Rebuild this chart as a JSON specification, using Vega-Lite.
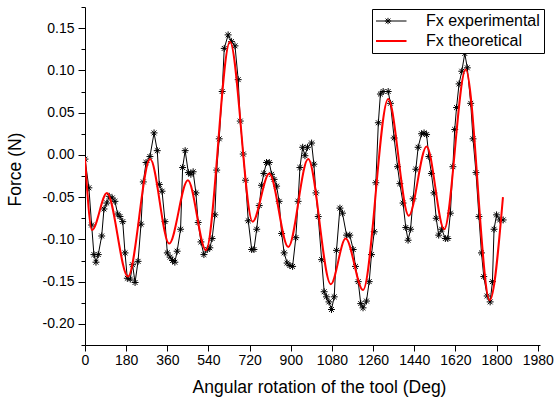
{
  "$schema": "https://vega.github.io/schema/vega-lite/v6.json",
  "width": 455,
  "height": 338,
  "autosize": {"type": "none"},
  "padding": {"left": 85, "top": 7, "right": 15, "bottom": 58},
  "background": "white",
  "config": {
    "view": {"stroke": null},
    "font": "Liberation Sans",
    "axis": {"grid": false, "domainColor": "black", "tickColor": "black", "labelColor": "black", "titleColor": "black", "labelFont": "Liberation Sans", "titleFont": "Liberation Sans", "labelFontSize": 14, "titleFontSize": 17.5, "titleFontWeight": "normal", "labelOverlap": false, "labelBound": false, "labelFlush": false}
  },
  "resolve": {"axis": {"y": "independent"}},
  "datasets": {
    "exp": [
      {"a":0,"f":-0.005},{"a":17,"f":-0.039},{"a":29,"f":-0.083},{"a":39,"f":-0.118},{"a":48,"f":-0.127},{"a":58,"f":-0.118},{"a":73,"f":-0.096},{"a":83,"f":-0.064},{"a":95,"f":-0.057},{"a":106,"f":-0.049},{"a":119,"f":-0.051},{"a":131,"f":-0.055},{"a":143,"f":-0.070},{"a":153,"f":-0.073},{"a":165,"f":-0.079},{"a":175,"f":-0.116},{"a":185,"f":-0.146},{"a":198,"f":-0.147},{"a":208,"f":-0.130},{"a":219,"f":-0.151},{"a":232,"f":-0.126},{"a":245,"f":-0.082},{"a":255,"f":-0.032},{"a":267,"f":-0.009},{"a":284,"f":-0.002},{"a":302,"f":0.026},{"a":316,"f":0.005},{"a":325,"f":-0.035},{"a":337,"f":-0.043},{"a":350,"f":-0.079},{"a":360,"f":-0.116},{"a":372,"f":-0.121},{"a":383,"f":-0.125},{"a":393,"f":-0.127},{"a":403,"f":-0.114},{"a":418,"f":-0.088},{"a":427,"f":-0.015},{"a":438,"f":0.005},{"a":452,"f":-0.021},{"a":463,"f":-0.023},{"a":473,"f":-0.020},{"a":485,"f":-0.045},{"a":495,"f":-0.080},{"a":507,"f":-0.103},{"a":520,"f":-0.118},{"a":535,"f":-0.112},{"a":546,"f":-0.110},{"a":556,"f":-0.099},{"a":568,"f":-0.071},{"a":576,"f":-0.018},{"a":587,"f":0.019},{"a":600,"f":0.075},{"a":609,"f":0.126},{"a":626,"f":0.142},{"a":641,"f":0.134},{"a":656,"f":0.129},{"a":670,"f":0.089},{"a":679,"f":0.040},{"a":692,"f":0.001},{"a":702,"f":-0.030},{"a":714,"f":-0.078},{"a":729,"f":-0.112},{"a":739,"f":-0.112},{"a":751,"f":-0.088},{"a":762,"f":-0.060},{"a":772,"f":-0.036},{"a":782,"f":-0.022},{"a":794,"f":-0.009},{"a":806,"f":-0.009},{"a":816,"f":-0.023},{"a":827,"f":-0.029},{"a":838,"f":-0.037},{"a":849,"f":-0.055},{"a":860,"f":-0.093},{"a":871,"f":-0.116},{"a":884,"f":-0.128},{"a":896,"f":-0.131},{"a":908,"f":-0.132},{"a":922,"f":-0.098},{"a":932,"f":-0.055},{"a":940,"f":-0.015},{"a":952,"f":0.009},{"a":962,"f":-0.001},{"a":973,"f":0.009},{"a":991,"f":0.014},{"a":1001,"f":-0.011},{"a":1010,"f":-0.045},{"a":1020,"f":-0.073},{"a":1035,"f":-0.124},{"a":1046,"f":-0.162},{"a":1056,"f":-0.168},{"a":1067,"f":-0.174},{"a":1078,"f":-0.183},{"a":1090,"f":-0.168},{"a":1100,"f":-0.113},{"a":1115,"f":-0.063},{"a":1126,"f":-0.069},{"a":1144,"f":-0.095},{"a":1158,"f":-0.095},{"a":1173,"f":-0.112},{"a":1183,"f":-0.132},{"a":1195,"f":-0.150},{"a":1206,"f":-0.176},{"a":1216,"f":-0.181},{"a":1231,"f":-0.173},{"a":1243,"f":-0.150},{"a":1253,"f":-0.118},{"a":1265,"f":-0.091},{"a":1272,"f":-0.033},{"a":1283,"f":0.038},{"a":1292,"f":0.072},{"a":1304,"f":0.075},{"a":1326,"f":0.075},{"a":1336,"f":0.061},{"a":1352,"f":0.020},{"a":1367,"f":-0.014},{"a":1377,"f":-0.034},{"a":1391,"f":-0.057},{"a":1403,"f":-0.086},{"a":1413,"f":-0.101},{"a":1424,"f":-0.088},{"a":1435,"f":-0.052},{"a":1447,"f":-0.017},{"a":1457,"f":0.009},{"a":1472,"f":0.025},{"a":1483,"f":0.026},{"a":1494,"f":0.024},{"a":1504,"f":-0.002},{"a":1515,"f":-0.022},{"a":1526,"f":-0.045},{"a":1536,"f":-0.075},{"a":1547,"f":-0.095},{"a":1560,"f":-0.088},{"a":1576,"f":-0.099},{"a":1587,"f":-0.099},{"a":1598,"f":-0.069},{"a":1609,"f":-0.014},{"a":1617,"f":0.030},{"a":1625,"f":0.056},{"a":1636,"f":0.084},{"a":1648,"f":0.099},{"a":1661,"f":0.120},{"a":1672,"f":0.103},{"a":1687,"f":0.061},{"a":1697,"f":0.019},{"a":1710,"f":-0.021},{"a":1723,"f":-0.073},{"a":1734,"f":-0.116},{"a":1744,"f":-0.144},{"a":1759,"f":-0.167},{"a":1772,"f":-0.174},{"a":1782,"f":-0.150},{"a":1789,"f":-0.088},{"a":1800,"f":-0.071},{"a":1814,"f":-0.077},{"a":1829,"f":-0.077}
    ],
    "theo": [
      {"a":0,"f":-0.003},{"a":31,"f":-0.089},{"a":96,"f":-0.045},{"a":188,"f":-0.144},{"a":285,"f":-0.005},{"a":368,"f":-0.105},{"a":450,"f":-0.030},{"a":529,"f":-0.113},{"a":634,"f":0.134},{"a":733,"f":-0.079},{"a":806,"f":-0.022},{"a":889,"f":-0.109},{"a":976,"f":-0.005},{"a":1075,"f":-0.153},{"a":1140,"f":-0.099},{"a":1216,"f":-0.160},{"a":1326,"f":0.066},{"a":1416,"f":-0.072},{"a":1494,"f":0.010},{"a":1571,"f":-0.088},{"a":1665,"f":0.101},{"a":1770,"f":-0.172},{"a":1828,"f":-0.050}
    ]
  },
  "layer": [
    {
      "data": {"name": "exp"},
      "transform": [{"calculate": "'Fx experimental'", "as": "series"}],
      "mark": {"type": "line", "strokeWidth": 1, "clip": true},
      "encoding": {
        "x": {"field": "a", "type": "quantitative", "scale": {"domain": [0, 1990], "nice": false, "zero": false},
          "axis": {"values": [0,90,180,270,360,450,540,630,720,810,900,990,1080,1170,1260,1350,1440,1530,1620,1710,1800,1890,1980],
            "labelExpr": "datum.value % 180 == 0 ? '' + datum.value : ''",
            "tickSize": {"condition": {"test": "datum.value % 180 == 0", "value": 6}, "value": 3},
            "labelPadding": 2,
            "title": "Angular rotation of the tool (Deg)", "titleX": 234, "titleY": 47, "titleBaseline": "alphabetic", "titleAlign": "center", "titleAnchor": null}},
        "y": {"field": "f", "type": "quantitative", "scale": {"domain": [-0.225, 0.175], "nice": false, "zero": false},
          "axis": {"orient": "left", "values": [-0.2,-0.15,-0.1,-0.05,0,0.05,0.1,0.15],
            "format": ".2f",
            "labelExpr": "replace(datum.label, '\u2212', '-')",
            "tickSize": 7,
            "labelPadding": 4,
            "title": "Force (N)", "titleX": -61, "titleY": 162, "titleBaseline": "bottom", "titleAlign": "center", "titleAngle": -90, "titleAnchor": null}},
        "color": {"field": "series", "type": "nominal",
          "scale": {"domain": ["Fx experimental", "Fx theoretical"], "range": ["black", "#ff0000"]},
          "legend": {"title": null, "orient": "none", "legendX": 287, "legendY": 2, "strokeColor": "black", "fillColor": "white", "padding": 4,
            "labelFont": "Liberation Sans", "labelFontSize": 16, "labelColor": "black", "labelOffset": 30, "symbolOffset": 4, "rowPadding": 4,
            "symbolSize": 1369, "clipHeight": 16, "symbolType": "stroke",
            "encode": {"symbols": {"update": {
              "shape": {"signal": "datum.value == 'Fx experimental' ? 'M-1,0L1,0M0,-0.17L0,0.17M-0.13,-0.13L0.13,0.13M-0.13,0.13L0.13,-0.13M-0.17,0L0.17,0' : 'M-1,0L1,0'"},
              "strokeWidth": {"signal": "datum.value == 'Fx experimental' ? 1 : 2"}
            }}}}}
      }
    },
    {
      "data": {"name": "exp"},
      "mark": {"type": "point", "shape": "M-1,0L1,0M0,-1L0,1M-0.7,-0.7L0.7,0.7M-0.7,0.7L0.7,-0.7", "size": 48, "filled": false, "stroke": "black", "strokeWidth": 1, "opacity": 1, "clip": true},
      "encoding": {
        "x": {"field": "a", "type": "quantitative"},
        "y": {"field": "f", "type": "quantitative",
          "axis": {"orient": "left", "values": [-0.225,-0.175,-0.125,-0.075,-0.025,0.025,0.075,0.125,0.175], "labels": false, "tickSize": 4, "domain": false, "title": null}}
      }
    },
    {
      "data": {"name": "theo"},
      "transform": [{"calculate": "'Fx theoretical'", "as": "series"}],
      "mark": {"type": "line", "strokeWidth": 2, "interpolate": "monotone", "clip": true},
      "encoding": {
        "x": {"field": "a", "type": "quantitative"},
        "y": {"field": "f", "type": "quantitative", "axis": null},
        "color": {"field": "series", "type": "nominal"}
      }
    }
  ]
}
